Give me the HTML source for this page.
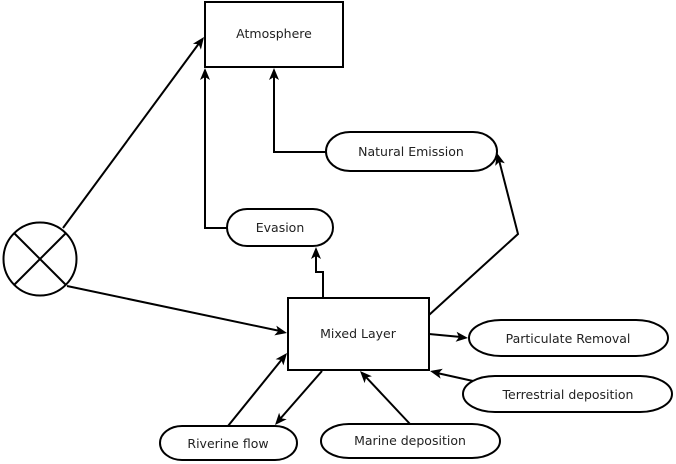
<!DOCTYPE html>
<html><head><style>body{margin:0;background:#fff}svg{display:block}</style></head>
<body>
<svg width="676" height="464" viewBox="0 0 676 464" xmlns="http://www.w3.org/2000/svg">
<g stroke="#000" stroke-width="2" fill="none">
<rect x="205" y="2" width="138" height="65" fill="#fff"/>
<rect x="288" y="298" width="141" height="72" fill="#fff"/>
<rect x="326" y="132" width="171" height="39" rx="24" ry="19.5" fill="#fff"/>
<rect x="227" y="209" width="106" height="37" rx="20" ry="18.5" fill="#fff"/>
<rect x="469" y="320" width="199" height="36" rx="32" ry="18" fill="#fff"/>
<rect x="463" y="376" width="209" height="36" rx="32" ry="18" fill="#fff"/>
<rect x="160" y="426" width="137" height="34" rx="22" ry="17" fill="#fff"/>
<rect x="321" y="424" width="179" height="34" rx="28" ry="17" fill="#fff"/>
<circle cx="40" cy="259" r="36.5" fill="#fff"/>
<line x1="14" y1="233" x2="66" y2="285"/>
<line x1="14" y1="285" x2="66" y2="233"/>
<line x1="63" y1="228" x2="200" y2="42"/>
<line x1="67" y1="286" x2="280" y2="331"/>
<polyline points="227,228 205,228 205,75"/>
<polyline points="326,152 274,152 274,75"/>
<polyline points="323,298 323,272 316,272 316,254"/>
<polyline points="429,315 518,234 499,160"/>
<line x1="429" y1="334" x2="461" y2="337"/>
<line x1="473" y1="381" x2="437" y2="373"/>
<line x1="410" y1="424" x2="365" y2="376"/>
<line x1="228" y1="426" x2="283" y2="358"/>
<line x1="322" y1="371" x2="280" y2="419"/>
</g>
<g fill="#000">
<polygon points="204,37 200.9,49.6 198.7,44.2 192.9,43.7"/>
<polygon points="287,333 274.3,335.4 278.2,331.1 276.3,325.6"/>
<polygon points="205,68 200,80 205,77 210,80"/>
<polygon points="274,68 269,80 274,77 279,80"/>
<polygon points="316,247 311,259 316,256 321,259"/>
<polygon points="497,153 504.8,163.3 499.3,161.7 495.2,165.9"/>
<polygon points="468,338 455.6,341.8 459,337.1 456.6,331.8"/>
<polygon points="430,371 442.8,368.8 438.8,373 440.6,378.6"/>
<polygon points="360,371 371.9,376.3 366.2,377.5 364.6,383.1"/>
<polygon points="287,353 283.4,365.4 281.3,360 275.6,359.2"/>
<polygon points="275,425 279.1,412.7 280.9,418.2 286.7,419.3"/>
</g>
<g text-anchor="middle" font-family="DejaVu Sans, Liberation Sans, sans-serif" font-size="12.5" fill="#222">
<text x="274" y="38">Atmosphere</text>
<text x="358" y="338">Mixed Layer</text>
<text x="411" y="156">Natural Emission</text>
<text x="280" y="232">Evasion</text>
<text x="568" y="343">Particulate Removal</text>
<text x="568" y="399">Terrestrial deposition</text>
<text x="228" y="448">Riverine flow</text>
<text x="410" y="445">Marine deposition</text>
</g>
</svg>
</body></html>
